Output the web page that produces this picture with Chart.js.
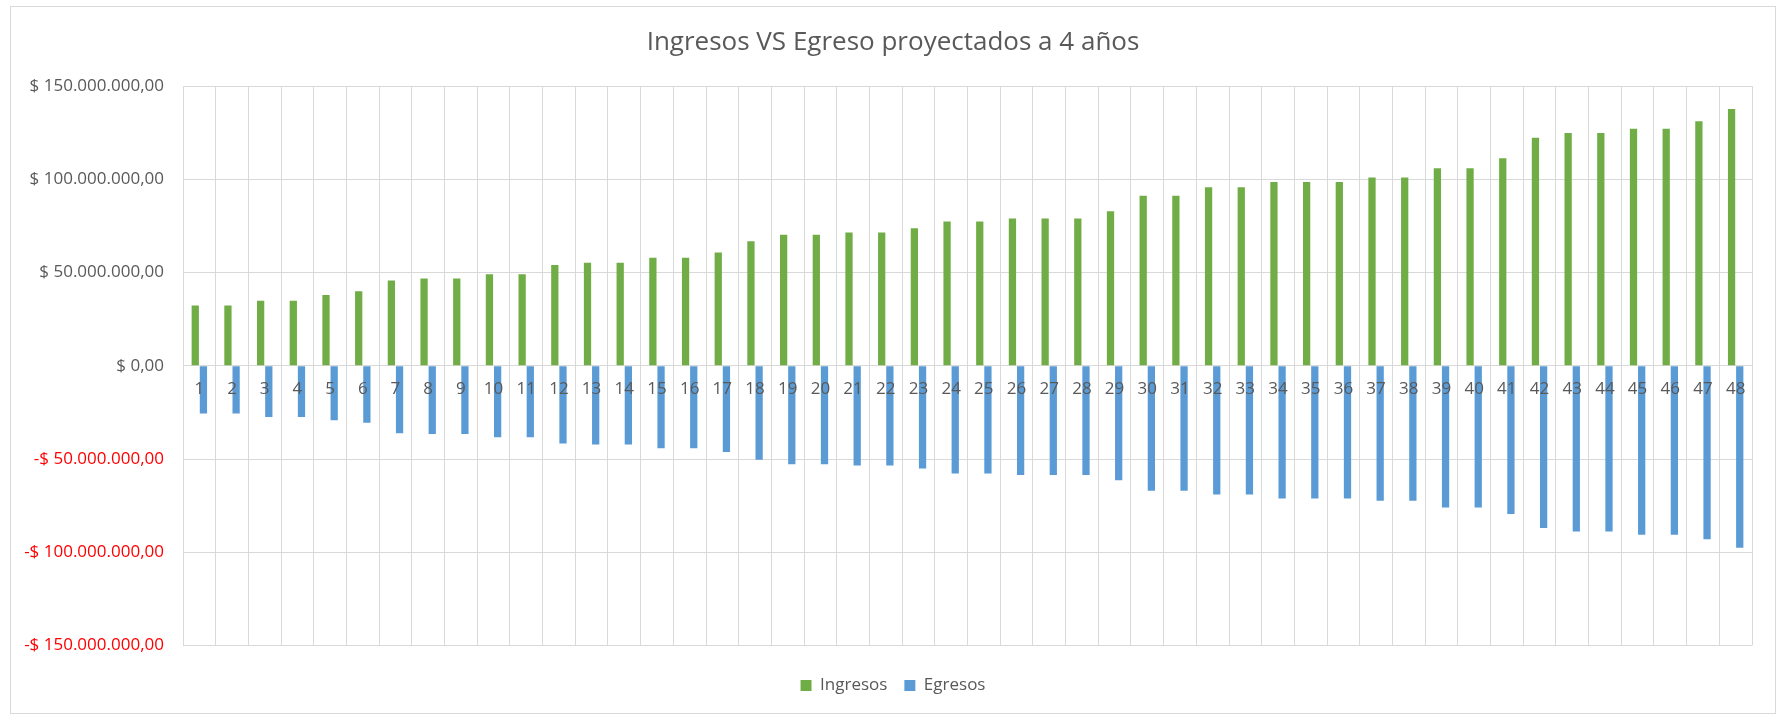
<!DOCTYPE html>
<html>
<head>
<meta charset="utf-8">
<script src="https://cdn.jsdelivr.net/npm/chart.js@4.4.1/dist/chart.umd.min.js"></script>
<style>
  html, body { margin: 0; padding: 0; background: #fff; }
  #frame {
    position: absolute; left: 10px; top: 6px;
    width: 1766px; height: 708px;
    box-sizing: border-box; border: 1px solid #d9d9d9;
  }
  #chart { display: block; }
</style>
</head>
<body>
<div id="frame"><canvas id="chart" width="1764" height="706"></canvas></div>
<script>
/* ---------- DATA ---------- */
const months = [
  "1","2","3","4","5","6","7","8","9","10","11","12",
  "13","14","15","16","17","18","19","20","21","22","23","24",
  "25","26","27","28","29","30","31","32","33","34","35","36",
  "37","38","39","40","41","42","43","44","45","46","47","48"
];

const ingresos = [
  32300000, 32300000, 34900000, 34900000, 38000000, 40000000,
  45700000, 46800000, 46800000, 49100000, 49100000, 54100000,
  55200000, 55200000, 57900000, 57900000, 60800000, 66800000,
  70300000, 70300000, 71500000, 71500000, 73700000, 77400000,
  77400000, 79000000, 79000000, 79000000, 82800000, 91200000,
  91200000, 95700000, 95700000, 98600000, 98600000, 98600000,
  100900000, 100900000, 105900000, 105900000, 111300000, 122300000,
  124800000, 124800000, 127100000, 127100000, 131100000, 137700000
];

const egresos = [
  -25600000, -25600000, -27400000, -27400000, -29200000, -30500000,
  -36100000, -36600000, -36600000, -38300000, -38300000, -41700000,
  -42200000, -42200000, -44200000, -44200000, -46200000, -50400000,
  -52800000, -52800000, -53500000, -53500000, -55000000, -57700000,
  -57700000, -58600000, -58600000, -58600000, -61300000, -67000000,
  -67000000, -69000000, -69000000, -71200000, -71200000, -71200000,
  -72400000, -72400000, -75900000, -75900000, -79500000, -87000000,
  -88800000, -88800000, -90600000, -90600000, -93000000, -97500000
];

const yMin = -150000000;
const yMax = 150000000;
const yStep = 50000000;

/* ---------- HELPERS ---------- */
const FONT = "'Open Sans', 'Liberation Sans', sans-serif";
const GREY = "#595959";
const GRID = "#d9d9d9";

function pesos(v) {
  const abs = Math.abs(v);
  const whole = Math.floor(abs).toString().replace(/\B(?=(\d{3})+(?!\d))/g, ".");
  return (v < 0 ? "-$ " : "$ ") + whole + ",00";
}

/* ---------- CHART ---------- */
new Chart(document.getElementById("chart"), {
  type: "bar",
  data: {
    labels: months,
    datasets: [
      { label: "Ingresos", data: ingresos, backgroundColor: "#70AD47", borderWidth: 0 },
      { label: "Egresos", data: egresos, backgroundColor: "#5B9BD5", borderWidth: 0 }
    ]
  },
  options: {
    responsive: false,
    animation: false,
    categoryPercentage: 0.5,
    barPercentage: 0.89,
    layout: { padding: { left: 0, right: 0, top: 0, bottom: 9 } },
    plugins: {
      tooltip: { enabled: false },
      title: {
        display: true,
        text: "Ingresos VS Egreso proyectados a 4 años",
        color: GREY,
        font: { family: FONT, size: 26, weight: "normal" },
        padding: { top: 20.4, bottom: 27.4 }
      },
      legend: {
        position: "bottom",
        title: { display: true, text: "", font: { size: 12, lineHeight: 1.2 }, padding: 0 },
        labels: {
          color: GREY,
          font: { family: FONT, size: 17 },
          boxWidth: 11,
          boxHeight: 11,
          padding: 17
        }
      }
    },
    scales: {
      x: {
        position: { y: 0 },
        grid: { color: GRID, drawTicks: false, offset: true },
        border: { color: GRID },
        ticks: {
          z: 1, // month numbers sit on top of the bars
          color: GREY,
          font: { family: FONT, size: 17 },
          padding: 12.8,
          autoSkip: false,
          maxRotation: 0
        }
      },
      y: {
        min: yMin,
        max: yMax,
        afterFit: s => { s.width = 172; },
        grid: { color: GRID, drawTicks: false },
        border: { color: GRID },
        ticks: {
          stepSize: yStep,
          padding: 19,
          font: { family: FONT, size: 17 },
          color: c => (c.tick && c.tick.value < 0 ? "#FF0000" : GREY),
          callback: v => pesos(v)
        }
      },
      /* empty right margin so title and legend stay centred on the whole frame */
      yRight: {
        position: "right",
        min: yMin,
        max: yMax,
        afterFit: s => { s.width = 23; },
        grid: { display: false, drawTicks: false },
        border: { display: false },
        ticks: { display: false }
      }
    }
  }
});
</script>
</body>
</html>
